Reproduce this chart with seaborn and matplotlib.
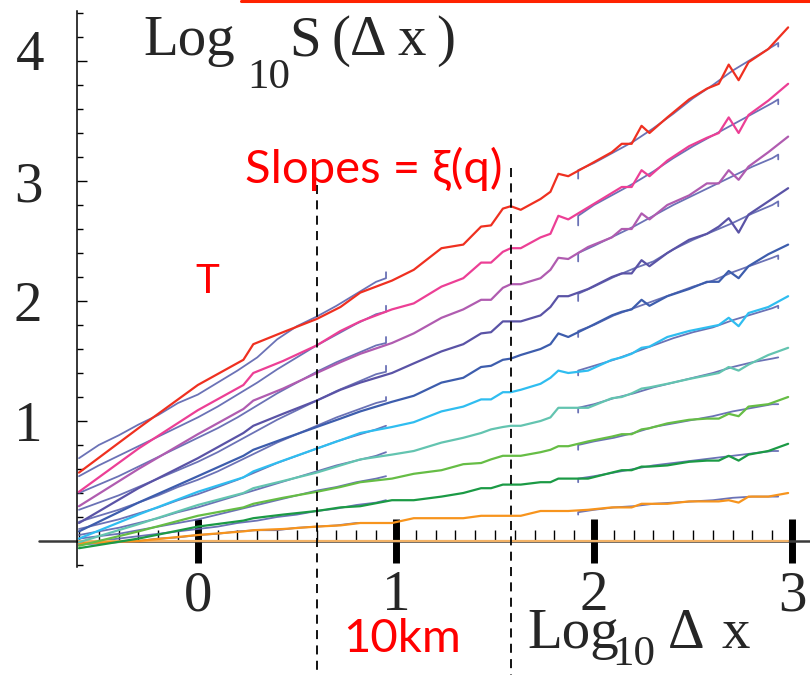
import numpy as np
import pandas as pd
import matplotlib
matplotlib.use("Agg")
import matplotlib.pyplot as plt
from matplotlib.lines import Line2D
from matplotlib.ticker import MultipleLocator
import seaborn as sns

# ---------------------------------------------------------------------------
# Data: log10 of the q-th order structure function vs log10 of the lag
# ---------------------------------------------------------------------------
log_dx = [-0.6, -0.3, 0.0, 0.23, 0.28, 0.43, 0.6, 0.72, 0.82, 0.98, 1.09,
          1.23, 1.34, 1.43, 1.48, 1.54, 1.58, 1.63, 1.73, 1.78, 1.82, 1.87,
          1.97, 2.09, 2.14, 2.19, 2.24, 2.28, 2.37, 2.48, 2.57, 2.63, 2.68,
          2.73, 2.78, 2.88, 2.98]

q_values = [0.0, 0.5, 1.0, 1.5, 2.0, 2.5, 3.0, 3.5, 4.0, 4.5, 5.0]

log_s_q00_x = [-0.6, 2.98]
log_s_q00 = [0.0, 0.0]

log_s_q05 = [-0.02, 0.00, 0.05, 0.08, 0.09, 0.10, 0.12, 0.13, 0.15, 0.15, 0.19,
             0.19, 0.19, 0.21, 0.21, 0.21, 0.21, 0.21, 0.25, 0.25, 0.25, 0.25,
             0.26, 0.28, 0.28, 0.28, 0.31, 0.31, 0.31, 0.33, 0.33, 0.33, 0.34,
             0.32, 0.37, 0.37, 0.40]
log_s_q10 = [-0.06, 0.02, 0.12, 0.17, 0.19, 0.22, 0.25, 0.28, 0.29, 0.34, 0.34,
             0.37, 0.40, 0.44, 0.44, 0.47, 0.47, 0.47, 0.49, 0.49, 0.52, 0.52,
             0.52, 0.57, 0.59, 0.59, 0.62, 0.62, 0.63, 0.66, 0.67, 0.67, 0.71,
             0.67, 0.72, 0.75, 0.81]
log_s_q15 = [-0.04, 0.08, 0.21, 0.28, 0.31, 0.36, 0.41, 0.45, 0.49, 0.52, 0.56,
             0.59, 0.64, 0.65, 0.68, 0.71, 0.71, 0.71, 0.74, 0.76, 0.79, 0.79,
             0.83, 0.87, 0.89, 0.89, 0.93, 0.94, 0.98, 1.01, 1.02, 1.02, 1.06,
             1.04, 1.12, 1.14, 1.20]
log_s_q20 = [-0.01, 0.14, 0.30, 0.40, 0.44, 0.50, 0.57, 0.63, 0.68, 0.72, 0.75,
             0.82, 0.86, 0.90, 0.93, 0.95, 0.96, 0.96, 1.00, 1.03, 1.11, 1.11,
             1.11, 1.19, 1.20, 1.23, 1.27, 1.28, 1.31, 1.35, 1.38, 1.40, 1.45,
             1.42, 1.47, 1.55, 1.61]
log_s_q25 = [0.02, 0.22, 0.41, 0.53, 0.58, 0.67, 0.77, 0.84, 0.90, 0.95, 0.99,
             1.08, 1.12, 1.18, 1.18, 1.24, 1.24, 1.26, 1.31, 1.36, 1.42, 1.40,
             1.42, 1.51, 1.53, 1.56, 1.61, 1.62, 1.70, 1.75, 1.78, 1.80, 1.86,
             1.79, 1.90, 1.95, 2.04]
log_s_q30 = [0.08, 0.32, 0.54, 0.71, 0.76, 0.85, 0.95, 1.02, 1.08, 1.16, 1.21,
             1.32, 1.36, 1.45, 1.46, 1.51, 1.52, 1.55, 1.60, 1.64, 1.73, 1.70,
             1.78, 1.88, 1.91, 1.93, 2.01, 1.96, 2.04, 2.10, 2.16, 2.16, 2.25,
             2.19, 2.29, 2.39, 2.47]
log_s_q35 = [0.15, 0.44, 0.69, 0.90, 0.96, 1.06, 1.17, 1.26, 1.32, 1.40, 1.48,
             1.58, 1.64, 1.73, 1.74, 1.83, 1.83, 1.83, 1.88, 1.95, 2.04, 2.04,
             2.10, 2.20, 2.23, 2.23, 2.34, 2.29, 2.40, 2.51, 2.56, 2.62, 2.69,
             2.57, 2.72, 2.83, 2.94]
log_s_q40 = [0.29, 0.60, 0.89, 1.10, 1.17, 1.27, 1.40, 1.49, 1.56, 1.65, 1.73,
             1.86, 1.93, 2.01, 2.01, 2.11, 2.14, 2.14, 2.19, 2.26, 2.36, 2.35,
             2.45, 2.53, 2.60, 2.60, 2.73, 2.68, 2.80, 2.88, 2.98, 2.98, 3.09,
             3.01, 3.12, 3.24, 3.37]
log_s_q45 = [0.41, 0.77, 1.09, 1.30, 1.40, 1.50, 1.63, 1.75, 1.83, 1.93, 1.98,
             2.12, 2.19, 2.32, 2.32, 2.41, 2.44, 2.44, 2.53, 2.56, 2.71, 2.68,
             2.78, 2.90, 2.95, 2.95, 3.09, 3.04, 3.17, 3.29, 3.36, 3.40, 3.53,
             3.40, 3.55, 3.67, 3.81]
log_s_q50 = [0.57, 0.94, 1.30, 1.51, 1.64, 1.74, 1.85, 1.95, 2.07, 2.17, 2.26,
             2.44, 2.47, 2.62, 2.63, 2.77, 2.79, 2.76, 2.85, 2.91, 3.06, 3.04,
             3.13, 3.24, 3.31, 3.31, 3.46, 3.40, 3.53, 3.68, 3.77, 3.81, 3.97,
             3.84, 3.99, 4.10, 4.28]

# Model curves over the small-lag range
log_dx_small = [-0.6, -0.5, -0.4, -0.3, -0.2, -0.1, 0.0, 0.1, 0.2, 0.3, 0.4,
                0.5, 0.6, 0.7, 0.8, 0.9, 0.95, 0.95]
model_small_q05 = [-0.03, -0.02, -0.01, 0.00, 0.02, 0.03, 0.05, 0.06, 0.08, 0.09,
                   0.09, 0.11, 0.12, 0.13, 0.15, 0.15, 0.15, 0.15]
model_small_q10 = [-0.02, 0.00, 0.02, 0.04, 0.06, 0.08, 0.10, 0.12, 0.15, 0.17,
                   0.20, 0.22, 0.25, 0.27, 0.30, 0.32, 0.34, 0.34]
model_small_q15 = [0.02, 0.04, 0.06, 0.09, 0.12, 0.15, 0.18, 0.22, 0.26, 0.30,
                   0.34, 0.38, 0.42, 0.45, 0.49, 0.52, 0.54, 0.54]
model_small_q20 = [0.05, 0.08, 0.11, 0.15, 0.19, 0.24, 0.28, 0.33, 0.38, 0.43,
                   0.48, 0.53, 0.58, 0.63, 0.67, 0.71, 0.74, 0.74]
model_small_q25 = [0.10, 0.14, 0.18, 0.23, 0.28, 0.34, 0.39, 0.45, 0.51, 0.58,
                   0.65, 0.71, 0.77, 0.83, 0.88, 0.93, 0.96, 0.96]
model_small_q30 = [0.16, 0.21, 0.26, 0.32, 0.38, 0.45, 0.51, 0.58, 0.66, 0.74,
                   0.82, 0.89, 0.96, 1.03, 1.09, 1.15, 1.17, 1.20]
model_small_q35 = [0.26, 0.32, 0.38, 0.45, 0.52, 0.59, 0.66, 0.74, 0.83, 0.92,
                   1.01, 1.09, 1.17, 1.25, 1.32, 1.39, 1.41, 1.46]
model_small_q40 = [0.40, 0.47, 0.54, 0.62, 0.70, 0.78, 0.86, 0.94, 1.03, 1.13,
                   1.23, 1.32, 1.41, 1.49, 1.56, 1.63, 1.65, 1.70]
model_small_q45 = [0.54, 0.63, 0.71, 0.79, 0.87, 0.95, 1.03, 1.12, 1.22, 1.32,
                   1.43, 1.53, 1.63, 1.72, 1.81, 1.89, 1.91, 1.96]
model_small_q50 = [0.69, 0.80, 0.88, 0.97, 1.05, 1.15, 1.22, 1.32, 1.42, 1.53,
                   1.68, 1.79, 1.87, 1.96, 2.06, 2.16, 2.19, 2.24]

# Model curves over the large-lag range
log_dx_large = [1.92, 1.92, 2.0, 2.1, 2.2, 2.3, 2.4, 2.5, 2.6, 2.7, 2.8, 2.9,
                2.93, 2.93]
model_large_q05 = [0.22, 0.24, 0.26, 0.28, 0.29, 0.31, 0.32, 0.33, 0.34, 0.36,
                   0.37, 0.37, 0.37, 0.37]
model_large_q10 = [0.49, 0.52, 0.54, 0.57, 0.60, 0.63, 0.65, 0.67, 0.69, 0.71,
                   0.73, 0.75, 0.75, 0.75]
model_large_q15 = [0.76, 0.80, 0.83, 0.86, 0.90, 0.95, 0.98, 1.01, 1.04, 1.08,
                   1.11, 1.14, 1.14, 1.14]
model_large_q20 = [1.07, 1.11, 1.14, 1.19, 1.23, 1.28, 1.32, 1.36, 1.40, 1.45,
                   1.49, 1.52, 1.53, 1.53]
model_large_q25 = [1.38, 1.42, 1.46, 1.51, 1.57, 1.63, 1.69, 1.74, 1.78, 1.84,
                   1.89, 1.94, 1.96, 1.94]
model_large_q30 = [1.70, 1.75, 1.80, 1.88, 1.94, 2.00, 2.06, 2.12, 2.17, 2.24,
                   2.30, 2.36, 2.38, 2.35]
model_large_q35 = [2.00, 2.06, 2.12, 2.20, 2.27, 2.33, 2.43, 2.51, 2.58, 2.65,
                   2.73, 2.80, 2.83, 2.79]
model_large_q40 = [2.33, 2.40, 2.46, 2.54, 2.62, 2.71, 2.80, 2.88, 2.96, 3.04,
                   3.12, 3.19, 3.22, 3.18]
model_large_q45 = [2.63, 2.71, 2.80, 2.89, 2.98, 3.08, 3.19, 3.29, 3.38, 3.47,
                   3.56, 3.65, 3.68, 3.64]
model_large_q50 = [3.02, 3.09, 3.15, 3.24, 3.33, 3.44, 3.56, 3.69, 3.80, 3.92,
                   4.02, 4.12, 4.15, 4.12]

x_ticks = [0, 1, 2, 3]
y_ticks = [1, 2, 3, 4]
scaling_range = [0.6, 1.58]

# ---------------------------------------------------------------------------
# Long-form tables for seaborn
# ---------------------------------------------------------------------------
measured = {0.5: log_s_q05, 1.0: log_s_q10, 1.5: log_s_q15, 2.0: log_s_q20,
            2.5: log_s_q25, 3.0: log_s_q30, 3.5: log_s_q35, 4.0: log_s_q40,
            4.5: log_s_q45, 5.0: log_s_q50}
rows = [(q, x, y) for q, ys in measured.items() for x, y in zip(log_dx, ys)]
rows += [(0.0, x, y) for x, y in zip(log_s_q00_x, log_s_q00)]
df_data = pd.DataFrame(rows, columns=["q", "log_dx", "log_s"])

small = {0.5: model_small_q05, 1.0: model_small_q10, 1.5: model_small_q15,
         2.0: model_small_q20, 2.5: model_small_q25, 3.0: model_small_q30,
         3.5: model_small_q35, 4.0: model_small_q40, 4.5: model_small_q45,
         5.0: model_small_q50}
large = {0.5: model_large_q05, 1.0: model_large_q10, 1.5: model_large_q15,
         2.0: model_large_q20, 2.5: model_large_q25, 3.0: model_large_q30,
         3.5: model_large_q35, 4.0: model_large_q40, 4.5: model_large_q45,
         5.0: model_large_q50}
model_rows = []
for q, ys in small.items():
    model_rows += [(f"s{q}", x, y) for x, y in zip(log_dx_small, ys)]
for q, ys in large.items():
    model_rows += [(f"l{q}", x, y) for x, y in zip(log_dx_large, ys)]
df_model = pd.DataFrame(model_rows, columns=["unit", "log_dx", "log_s"])

palette = {0.0: "#f2b266", 0.5: "#f7941d", 1.0: "#1b9a45", 1.5: "#66bd45",
           2.0: "#63c4b0", 2.5: "#2fbdf0", 3.0: "#3d5dad", 3.5: "#5a53a6",
           4.0: "#b05cb0", 4.5: "#ec3f95", 5.0: "#ef3020"}

# ---------------------------------------------------------------------------
# Figure
# ---------------------------------------------------------------------------
sns.set_theme(style="ticks")
plt.rcParams["font.family"] = ["Liberation Serif", "DejaVu Serif"]

W, H = 810, 675
fig = plt.figure(figsize=(W / 100, H / 100), dpi=100)
ax = fig.add_axes([77 / W, (H - 567.4) / H, 725 / W, 556.8 / H])

sns.lineplot(data=df_model, x="log_dx", y="log_s", units="unit",
             estimator=None, sort=False, color="#5b63ae", linewidth=1.3,
             alpha=0.9, legend=False, ax=ax)
sns.lineplot(data=df_data, x="log_dx", y="log_s", hue="q", palette=palette,
             estimator=None, sort=False, linewidth=1.6, legend=False, ax=ax)

ax.set_xlim(-0.61, 3.05)
ax.set_ylim(-0.22, 4.42)
ax.set_xlabel("")
ax.set_ylabel("")

for side in ("top", "right"):
    ax.spines[side].set_visible(False)
ax.spines["left"].set_color("black")
ax.spines["left"].set_linewidth(1.1)
ax.spines["bottom"].set_position(("data", 0))
ax.spines["bottom"].set_linewidth(0)

# horizontal axis line at zero, running past the left axis
ax.add_line(Line2D([-0.80, 3.12], [0, 0], color="#3a3a3a", lw=1.8,
                   clip_on=False, zorder=1))

ax.set_xticks(x_ticks)
ax.set_xticklabels([str(t) for t in x_ticks])
ax.xaxis.set_minor_locator(MultipleLocator(0.1))
ax.set_yticks(y_ticks)
# the top label sits a little higher than its tick; it is placed by hand
ax.set_yticklabels([str(t) for t in y_ticks[:-1]] + [""])
ax.yaxis.set_minor_locator(MultipleLocator(0.2))

ax.tick_params(axis="x", which="major", direction="inout", length=32,
               width=5, color="black", pad=5, labelsize=41)
ax.tick_params(axis="x", which="minor", direction="in", length=8, width=1,
               color="black")
ax.tick_params(axis="y", which="major", direction="in", length=7, width=1,
               color="black", pad=25, labelsize=41)
ax.tick_params(axis="y", which="minor", direction="in", length=4, width=1,
               color="black")

# scaling-range markers
for xs, top in zip(scaling_range, [2.97, 3.11]):
    ax.add_line(Line2D([xs, xs], [top, -1.12], color="black", lw=1.3,
                       linestyle=(0, (5, 3.5)), clip_on=False, zorder=5))


def ftext(px, py, s, **kw):
    fig.text(px / W, 1 - py / H, s, va="baseline", **kw)


serif = ["Liberation Serif", "DejaVu Serif"]
sans = ["Lato", "DejaVu Sans"]

ftext(44, 70, str(y_ticks[-1]), fontsize=41, family=serif, ha="right")

# axis titles
ftext(143, 55, "Log", fontsize=41, family=serif)
ftext(247, 88, "10", fontsize=31, family=serif)
for px, ch in zip([289, 331, 350, 397, 436], ["S", "(", "\u0394", "x", ")"]):
    ftext(px, 55, ch, fontsize=41, family=serif)

ftext(527, 648, "Log", fontsize=41, family=serif)
ftext(612, 665, "10", fontsize=31, family=serif)
ftext(668, 648, "\u0394", fontsize=41, family=serif)
ftext(722, 648, "x", fontsize=41, family=serif)

# red annotations
ftext(245, 183, "Slopes = \u03be(q)", fontsize=34, color="#ff0000", family=sans)
ftext(195, 293, "T", fontsize=29, color="#ff0000", family=sans)
ftext(343, 652, "10km", fontsize=34, color="#ff0000", family=sans)

fig.add_artist(Line2D([241 / W, 1.0], [1 - 1 / H, 1 - 1 / H], color="#ff2200",
                      lw=2.2))

fig.savefig("out.png", dpi=100)
